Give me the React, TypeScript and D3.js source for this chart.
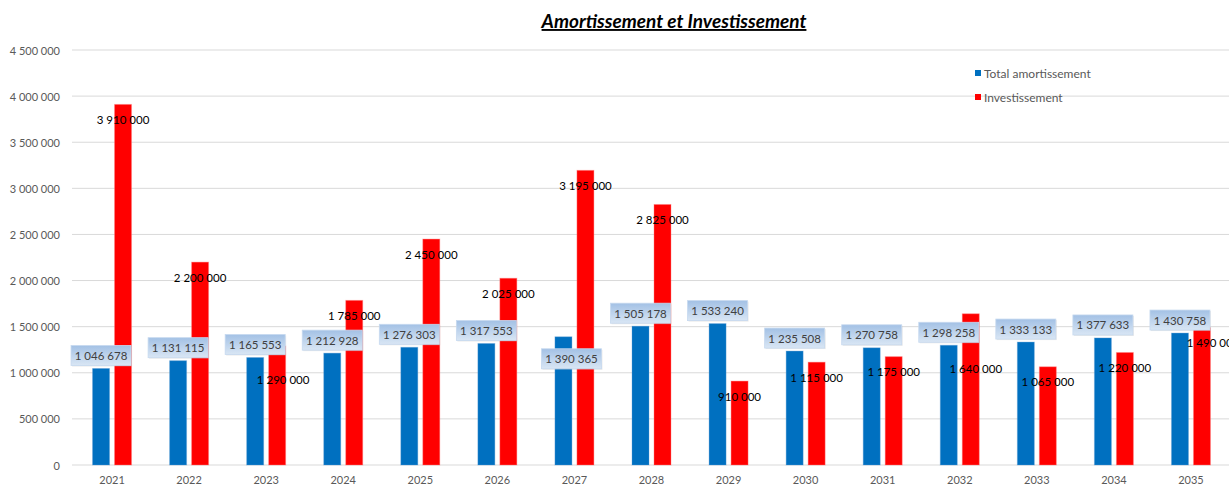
import React from "react";
import * as d3 from "d3";

const years = ["2021", "2022", "2023", "2024", "2025", "2026", "2027", "2028", "2029", "2030", "2031", "2032", "2033", "2034", "2035"];
const amortissement = [1046678, 1131115, 1165553, 1212928, 1276303, 1317553, 1390365, 1505178, 1533240, 1235508, 1270758, 1298258, 1333133, 1377633, 1430758];
const investissement = [3910000, 2200000, 1290000, 1785000, 2450000, 2025000, 3195000, 2825000, 910000, 1115000, 1175000, 1640000, 1065000, 1220000, 1490000];
const yTicks = [0, 500000, 1000000, 1500000, 2000000, 2500000, 3000000, 3500000, 4000000, 4500000];
const seriesNames = ["Total amortissement", "Investissement"];
const seriesKeys = ["amort", "invest"];
const title = "Amortissement et Investissement";

// manual label nudges (layout only)
const amortLabelShift: Record<string, [number, number]> = { "2027": [8, 35] };
const investLabelShift: Record<string, [number, number]> = { "2023": [6, 18], "2032": [5, 40], "2035": [11, 0] };

const W = 1229;
const H = 484;
const FONT = "Lato, 'Noto Sans', sans-serif";
const BLUE = "#0070c0";
const RED = "#ff0000";

const locale = d3.formatLocale({ decimal: ",", thousands: " ", grouping: [3], currency: ["", " €"] });
const fmt = locale.format(",");

export default function App() {
  const x0 = d3.scaleBand<string>().domain(years).range([73.5, 1229.5]).paddingInner(0.494).paddingOuter(0.247);
  const x1 = d3.scaleBand<string>().domain(seriesKeys).range([0, x0.bandwidth()]).paddingInner(0.227);
  const y = d3.scaleLinear().domain([0, 4500000]).range([465, 50]);
  const plotLeft = 72;

  return (
    <svg width={W} height={H} style={{ position: "absolute", left: 0, top: 0, background: "#fff" }} fontFamily={FONT}>
      <defs>
        <linearGradient id="lblGrad" x1="0" y1="0" x2="0" y2="1">
          <stop offset="0%" stopColor="#a3c1e5" />
          <stop offset="100%" stopColor="#d9e6f4" />
        </linearGradient>
      </defs>
      <rect x={0} y={0} width={W} height={H} fill="#fff" />
      {/* title */}
      <text x={674} y={28} textAnchor="middle" fontSize={19} fontWeight="bold" fontStyle="italic" textDecoration="underline" fill="#000">
        {title}
      </text>
      {/* gridlines & y axis */}
      {yTicks.map((t) => (
        <g key={t}>
          <line x1={plotLeft} x2={W} y1={y(t)} y2={y(t)} stroke="#d9d9d9" strokeWidth={1} />
          <text x={60} y={y(t)} textAnchor="end" dominantBaseline="central" fontSize={11} fill="#595959">
            {fmt(t)}
          </text>
        </g>
      ))}
      {/* bars */}
      {years.map((yr, i) => {
        const gx = x0(yr)!;
        return (
          <g key={yr}>
            <rect x={gx + x1("amort")!} y={y(amortissement[i])} width={x1.bandwidth()} height={y(0) - y(amortissement[i])} fill={BLUE} stroke="#5b9bd5" strokeOpacity={0.35} strokeWidth={1} />
            <rect x={gx + x1("invest")!} y={y(investissement[i])} width={x1.bandwidth()} height={y(0) - y(investissement[i])} fill={RED} stroke="#ff8080" strokeOpacity={0.4} strokeWidth={1} />
          </g>
        );
      })}
      {/* x axis labels */}
      {years.map((yr) => (
        <text key={yr} x={x0(yr)! + x0.bandwidth() / 2} y={484} textAnchor="middle" fontSize={11} fill="#595959">
          {yr}
        </text>
      ))}
      {/* investissement labels */}
      {years.map((yr, i) => {
        const s = investLabelShift[yr] || [0, 0];
        const cx = x0(yr)! + x1("invest")! + x1.bandwidth() / 2 + s[0];
        const cy = y(investissement[i]) + 15 + s[1];
        return (
          <text key={yr} x={cx} y={cy} textAnchor="middle" dominantBaseline="central" fontSize={11.5} fill="#000">
            {fmt(investissement[i])}
          </text>
        );
      })}
      {/* amortissement labels */}
      {years.map((yr, i) => {
        const s = amortLabelShift[yr] || [0, 0];
        const cx = x0(yr)! + x1("amort")! + x1.bandwidth() / 2 + s[0];
        const cy = y(amortissement[i]) - 13 + s[1];
        return (
          <g key={yr}>
            <rect x={cx - 29} y={cy - 9} width={60} height={20} fill="#bfbfbf" opacity={0.35} />
            <rect x={cx - 30} y={cy - 10} width={60} height={20} fill="url(#lblGrad)" stroke="#c6d9ef" strokeWidth={0.8} />
            <text x={cx} y={cy} textAnchor="middle" dominantBaseline="central" fontSize={11.5} fill="#404040">
              {fmt(amortissement[i])}
            </text>
          </g>
        );
      })}
      {/* legend */}
      {seriesNames.map((name, i) => (
        <g key={name}>
          <rect x={975} y={70 + i * 24} width={6} height={6} fill={i === 0 ? BLUE : RED} />
          <text x={984} y={73 + i * 24} dominantBaseline="central" fontSize={12} fill="#595959">
            {name}
          </text>
        </g>
      ))}
    </svg>
  );
}
